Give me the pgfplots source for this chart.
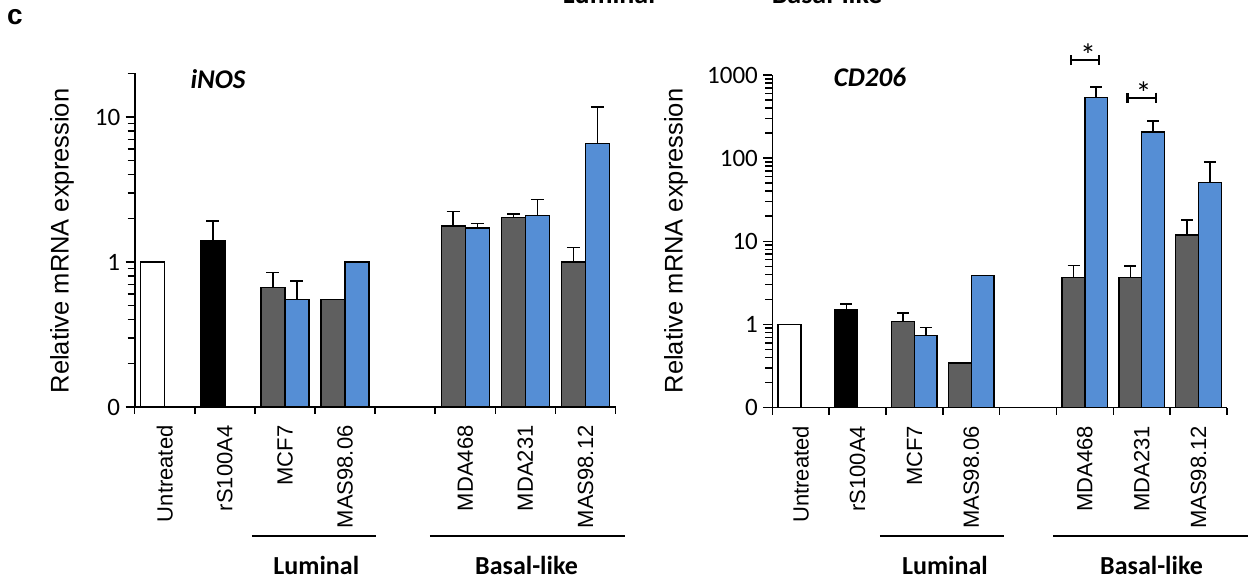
\documentclass[border=0pt]{standalone}
\usepackage{fontspec}
\setmainfont{Liberation Sans}
\newfontfamily\carlito{Carlito}
\usepackage{pgfplots}
\pgfplotsset{compat=1.18}
\definecolor{bargray}{RGB}{95,95,95}
\definecolor{barblue}{RGB}{85,142,213}
\newcommand{\fs}[1]{\fontsize{#1}{#1}\selectfont}

\begin{document}
\begin{tikzpicture}[x=1pt,y=1pt]
\useasboundingbox (0,0) rectangle (1249,579);
\clip (0,0) rectangle (1249,579);

% ---------- left panel: iNOS ----------
\begin{axis}[at={(134.7pt,172pt)}, anchor=south west,
  scale only axis, clip=false,
  width=480.8pt, height=333.6pt,
  ymode=log, log origin=infty,
  xmin=-0.5, xmax=7.5, ymin=0.1, ymax=20,
  axis x line*=bottom, axis y line*=left,
  axis line style={line width=1.8pt, black},
  xtick={0,1,2,3,5,6,7},
  xticklabels={Untreated,rS100A4,MCF7,MAS98.06,MDA468,MDA231,MAS98.12},
  xticklabel style={rotate=90, anchor=east, font=\fs{22}},
  xticklabel shift=6pt,
  minor xtick={-0.5,0.5,1.5,2.5,3.5,4.5,5.5,6.5,7.5},
  ytick={0.1,1,10}, yticklabels={0,1,10},
  minor ytick={0.2,0.3,0.4,0.5,0.6,0.7,0.8,0.9,2,3,4,5,6,7,8,9,20},
  yticklabel style={font=\carlito\fs{25}},
  yticklabel shift=2pt,
  tick align=outside,
  major tick length=9pt, minor tick length=7pt,
  tick style={line width=1.5pt, black},
  major x tick style={draw=none}]
\addplot[ybar, bar width=0.4, bar shift=0, draw=black, line width=1.4pt, fill=white] coordinates {(-0.2,1.0)};
\addplot[ybar, bar width=0.4, bar shift=0, draw=black, line width=1.4pt, fill=black,
  error bars/.cd, y dir=plus, y explicit, error mark=|,
  error mark options={mark size=6.5pt, line width=1.5pt, black},
  error bar style={line width=1.5pt, black}]
  coordinates {(0.8,1.40) +- (0,0.52)};
\addplot[ybar, bar width=0.4, bar shift=0, draw=black, line width=1.4pt, fill=bargray,
  error bars/.cd, y dir=plus, y explicit, error mark=|,
  error mark options={mark size=6.5pt, line width=1.5pt, black},
  error bar style={line width=1.5pt, black}]
  coordinates {
  (1.8,0.67) +- (0,0.18)
  (4.8,1.77) +- (0,0.46)
  (5.8,2.02) +- (0,0.12)
  (6.8,1.00) +- (0,0.26)};
\addplot[ybar, bar width=0.4, bar shift=0, draw=black, line width=1.4pt, fill=bargray] coordinates {(2.8,0.55)};
\addplot[ybar, bar width=0.4, bar shift=0, draw=black, line width=1.4pt, fill=barblue,
  error bars/.cd, y dir=plus, y explicit, error mark=|,
  error mark options={mark size=6.5pt, line width=1.5pt, black},
  error bar style={line width=1.5pt, black}]
  coordinates {
  (2.2,0.55) +- (0,0.19)
  (5.2,1.72) +- (0,0.13)
  (6.2,2.09) +- (0,0.60)
  (7.2,6.55) +- (0,5.15)};
\addplot[ybar, bar width=0.4, bar shift=0, draw=black, line width=1.4pt, fill=barblue] coordinates {(3.2,1.0)};
\end{axis}

% ---------- right panel: CD206 ----------
\begin{axis}[at={(772.4pt,171.5pt)}, anchor=south west,
  scale only axis, clip=false,
  width=454.5pt, height=332.5pt,
  ymode=log, log origin=infty,
  xmin=-0.5, xmax=7.5, ymin=0.1, ymax=1000,
  axis x line*=bottom, axis y line*=left,
  axis line style={line width=1.8pt, black},
  xtick={0,1,2,3,5,6,7},
  xticklabels={Untreated,rS100A4,MCF7,MAS98.06,MDA468,MDA231,MAS98.12},
  xticklabel style={rotate=90, anchor=east, font=\fs{22}},
  xticklabel shift=6pt,
  minor xtick={-0.5,0.5,1.5,2.5,3.5,4.5,5.5,6.5,7.5},
  ytick={0.1,1,10,100,1000}, yticklabels={0,1,10,100,1000},
  minor ytick={0.2,0.3,0.4,0.5,0.6,0.7,0.8,0.9,2,3,4,5,6,7,8,9,20,30,40,50,60,70,80,90,200,300,400,500,600,700,800,900},
  yticklabel style={font=\carlito\fs{25}},
  yticklabel shift=2pt,
  tick align=outside,
  major tick length=9pt, minor tick length=7pt,
  tick style={line width=1.5pt, black},
  major x tick style={draw=none}]
\addplot[ybar, bar width=0.4, bar shift=0, draw=black, line width=1.4pt, fill=white] coordinates {(-0.2,1.0)};
\addplot[ybar, bar width=0.4, bar shift=0, draw=black, line width=1.4pt, fill=black,
  error bars/.cd, y dir=plus, y explicit, error mark=|,
  error mark options={mark size=6pt, line width=1.5pt, black},
  error bar style={line width=1.5pt, black}]
  coordinates {(0.8,1.49) +- (0,0.27)};
\addplot[ybar, bar width=0.4, bar shift=0, draw=black, line width=1.4pt, fill=bargray,
  error bars/.cd, y dir=plus, y explicit, error mark=|,
  error mark options={mark size=6pt, line width=1.5pt, black},
  error bar style={line width=1.5pt, black}]
  coordinates {
  (1.8,1.08) +- (0,0.29)
  (4.8,3.67) +- (0,1.43)
  (5.8,3.67) +- (0,1.38)
  (6.8,11.9) +- (0,6.0)};
\addplot[ybar, bar width=0.4, bar shift=0, draw=black, line width=1.4pt, fill=bargray] coordinates {(2.8,0.344)};
\addplot[ybar, bar width=0.4, bar shift=0, draw=black, line width=1.4pt, fill=barblue,
  error bars/.cd, y dir=plus, y explicit, error mark=|,
  error mark options={mark size=6pt, line width=1.5pt, black},
  error bar style={line width=1.5pt, black}]
  coordinates {
  (2.2,0.74) +- (0,0.18)
  (5.2,532) +- (0,189)
  (6.2,207) +- (0,72)
  (7.2,50.6) +- (0,39.2)};
\addplot[ybar, bar width=0.4, bar shift=0, draw=black, line width=1.4pt, fill=barblue] coordinates {(3.2,3.85)};
% significance brackets
\addplot[draw=none, mark=none, forget plot,
  error bars/.cd, x dir=both, x explicit, error mark=|,
  error mark options={mark size=5pt, line width=2.2pt, draw=black},
  error bar style={line width=2.2pt, draw=black}]
  coordinates {(5,1514) +- (0.25,0) (6,533) +- (0.25,0)};
\end{axis}

% ---------- annotations ----------
\node[font=\bfseries\fs{28}] at (15,562) {c};
\node[font=\carlito\bfseries\fs{28}, anchor=base] at (609,575) {Luminal};
\node[font=\carlito\bfseries\fs{28}, anchor=base] at (827,575) {Basal-like};

\node[font=\carlito\bfseries\itshape\fs{27}] at (218,500) {iNOS};
\node[font=\carlito\bfseries\itshape\fs{27}] at (870,502) {CD206};

\node[rotate=90, font=\fs{25.5}] at (62,338) {Relative mRNA expression};
\node[rotate=90, font=\fs{25.5}] at (676,338) {Relative mRNA expression};

\node[font=\carlito\fs{32}] at (1088,524) {*};
\node[font=\carlito\fs{32}] at (1143.5,485.4) {*};

\draw[line width=1.8pt] (251.8,43.3) -- (375.5,43.3);
\draw[line width=1.8pt] (429.8,43.3) -- (624.5,43.3);
\draw[line width=1.8pt] (879.9,43.3) -- (1003.9,43.3);
\draw[line width=1.8pt] (1053.2,43.3) -- (1247.8,43.3);
\node[font=\carlito\bfseries\fs{26}] at (316.3,14) {Luminal};
\node[font=\carlito\bfseries\fs{26}] at (526.5,14) {Basal-like};
\node[font=\carlito\bfseries\fs{26}] at (944.9,14) {Luminal};
\node[font=\carlito\bfseries\fs{26}] at (1151.5,14) {Basal-like};
\end{tikzpicture}
\end{document}
